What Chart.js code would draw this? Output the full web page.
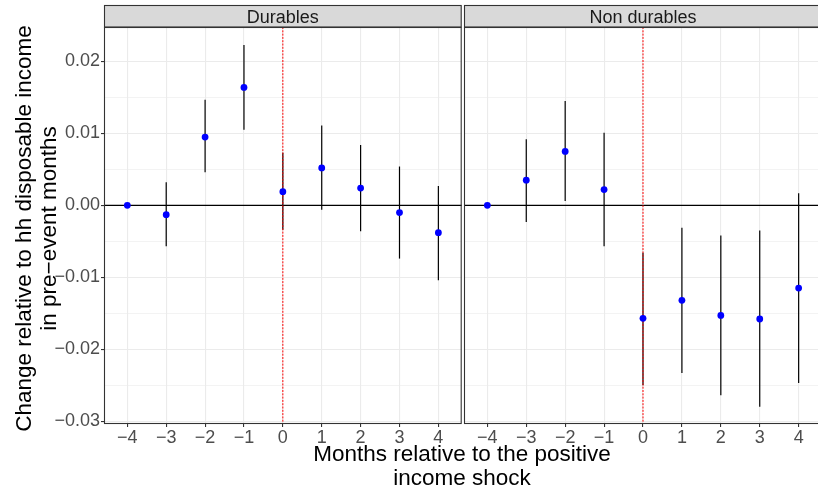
<!DOCTYPE html>
<html>
<head>
<meta charset="utf-8">
<title>Event study: durables vs non durables</title>
<script src="https://cdn.jsdelivr.net/npm/chart.js@4.4.1/dist/chart.umd.min.js"></script>
<style>
    html, body { margin: 0; padding: 0; background: #fff; overflow: hidden; }
    #wrap { position: relative; width: 818px; height: 489px; overflow: hidden; font-family: "Liberation Sans", Arial, sans-serif; }
    #wrap canvas { position: absolute; top: 0; }
    #durables { left: 0; }
    #nondurables { left: 462px; }
    .xtitle { position: absolute; left: 262px; width: 400px; top: 442px; text-align: center;
              font-size: 22.5px; line-height: 24px; color: #000; white-space: nowrap; }
</style>
</head>
<body>
<div id="wrap">
    <canvas id="durables" width="463" height="489"></canvas>
    <canvas id="nondurables" width="362" height="489"></canvas>
    <div class="xtitle">Months relative to the positive<br>income shock</div>
</div>

<script>
/* months around the shock */
const months = [-4, -3, -2, -1, 0, 1, 2, 3, 4];

/* durables: point estimate and confidence band */
const durEst  = [0, -0.0013, 0.0095, 0.0164, 0.0019, 0.0052, 0.0024, -0.0010, -0.0038];
const durLow  = [0, -0.0057, 0.0046, 0.0105, -0.0034, -0.0006, -0.0036, -0.0074, -0.0104];
const durHigh = [0, 0.0032, 0.0147, 0.0223, 0.0073, 0.0111, 0.0084, 0.0054, 0.0027];

/* non durables */
const nonEst  = [0, 0.0035, 0.0075, 0.0022, -0.0157, -0.0132, -0.0153, -0.0158, -0.0115];
const nonLow  = [0, -0.0023, 0.0006, -0.0057, -0.0250, -0.0233, -0.0264, -0.0280, -0.0247];
const nonHigh = [0, 0.0092, 0.0145, 0.0101, -0.0066, -0.0031, -0.0042, -0.0035, 0.0017];

/* axis ticks */
const xTicks = [-4, -3, -2, -1, 0, 1, 2, 3, 4];
const yTicks = [-0.03, -0.02, -0.01, 0.00, 0.01, 0.02];
const yMinor = [-0.025, -0.015, -0.005, 0.005, 0.015];

const FONT = "'Liberation Sans', Arial, sans-serif";
const GRID = "#ebebeb";
const DARK = "#333333";

function minus(s) { return String(s).replace("-", "\u2212"); }
function isMajor(v) { return yTicks.some(t => Math.abs(t - v) < 1e-9); }

function line(ctx, x1, y1, x2, y2) {
    ctx.beginPath();
    ctx.moveTo(x1, y1);
    ctx.lineTo(x2, y2);
    ctx.stroke();
}

/* zero line, error bars, shock marker, strip and frame */
const panelDecor = {
    id: "panelDecor",
    beforeDatasetsDraw(chart, args, o) {
        const { ctx, chartArea: a, scales: { x, y } } = chart;
        ctx.save();
        ctx.lineCap = "butt";

        ctx.strokeStyle = "#000";
        ctx.lineWidth = 1.1;
        const y0 = y.getPixelForValue(0);
        line(ctx, a.left, y0, a.right, y0);

        ctx.lineWidth = 1.2;
        o.low.forEach((lo, i) => {
            const px = x.getPixelForValue(months[i]);
            line(ctx, px, y.getPixelForValue(lo), px, y.getPixelForValue(o.high[i]));
        });

        ctx.strokeStyle = "#ff0000";
        ctx.lineWidth = 1;
        ctx.setLineDash([2, 1.3]);
        const x0 = x.getPixelForValue(0);
        line(ctx, x0, a.top, x0, a.bottom);
        ctx.restore();
    },
    afterDraw(chart, args, o) {
        const { ctx, chartArea: a } = chart;
        ctx.save();
        // facet strip
        ctx.fillStyle = "#d9d9d9";
        ctx.fillRect(a.left, 5.5, a.right - a.left, a.top - 5.5);
        ctx.strokeStyle = DARK;
        ctx.lineWidth = 1.1;
        ctx.strokeRect(a.left + 0.5, 5.5, a.right - a.left - 1, a.top - 5.5);
        ctx.fillStyle = "#1a1a1a";
        ctx.font = "18px " + FONT;
        ctx.textAlign = "center";
        ctx.textBaseline = "alphabetic";
        ctx.fillText(o.title, (a.left + a.right) / 2, 23);
        // panel frame
        ctx.strokeRect(a.left + 0.5, a.top + 0.5, a.right - a.left - 1, a.bottom - a.top - 1);

        // y axis title, only on the first panel
        if (o.yTitle) {
            ctx.fillStyle = "#000";
            ctx.font = "22.5px " + FONT;
            const cy = (a.top + a.bottom) / 2 + 3;
            o.yTitle.forEach((t, i) => {
                ctx.save();
                ctx.translate(31 + i * 24.5, cy);
                ctx.rotate(-Math.PI / 2);
                ctx.fillText(t, 0, 0);
                ctx.restore();
            });
        }
        ctx.restore();
    }
};

function makePanel(id, title, est, low, high, first) {
    return new Chart(document.getElementById(id), {
        type: "scatter",
        data: {
            datasets: [{
                data: months.map((m, i) => ({ x: m, y: est[i] })),
                backgroundColor: "#0000ff",
                borderWidth: 0,
                pointRadius: 3.4,
                pointHoverRadius: 3.4
            }]
        },
        options: {
            responsive: false,
            animation: false,
            devicePixelRatio: 1,
            layout: { autoPadding: false, padding: { top: 27, right: first ? 1.3 : 2, left: 0, bottom: 0 } },
            plugins: {
                legend: { display: false },
                tooltip: { enabled: false },
                panelDecor: {
                    title: title, low: low, high: high,
                    yTitle: first ? ["Change relative to hh disposable income", "in pre\u2212event months"] : null
                }
            },
            scales: {
                x: {
                    type: "linear",
                    min: -4.6, max: 4.6,
                    afterBuildTicks: s => { s.ticks = xTicks.map(v => ({ value: v })); },
                    afterFit: s => { s.height = 65; s.paddingLeft = 0; s.paddingRight = 0; },
                    border: { display: false },
                    grid: { color: GRID, lineWidth: 1.1, tickLength: 3, tickColor: DARK, tickWidth: 1.1 },
                    ticks: {
                        color: "#4d4d4d", font: { family: FONT, size: 18 },
                        padding: 0, maxRotation: 0, autoSkip: false,
                        callback: v => minus(v)
                    }
                },
                y: {
                    type: "linear",
                    min: -0.0304, max: 0.0248,
                    afterBuildTicks: s => {
                        s.ticks = yTicks.concat(yMinor).sort((a, b) => a - b).map(v => ({ value: v }));
                    },
                    afterFit: s => { s.width = first ? 104 : 2; s.paddingTop = 0; s.paddingBottom = 0; },
                    border: { display: false },
                    grid: {
                        color: GRID,
                        lineWidth: c => (c.tick && isMajor(c.tick.value)) ? 1.1 : 0.6,
                        drawTicks: first,
                        tickLength: 3,
                        tickWidth: 1.1,
                        tickColor: c => (c.tick && isMajor(c.tick.value)) ? DARK : "rgba(0,0,0,0)"
                    },
                    ticks: {
                        display: first,
                        color: "#4d4d4d", font: { family: FONT, size: 18 },
                        padding: 1, autoSkip: false,
                        callback: v => isMajor(v) ? minus(v.toFixed(2)) : ""
                    }
                }
            }
        },
        plugins: [panelDecor]
    });
}

makePanel("durables", "Durables", durEst, durLow, durHigh, true);
makePanel("nondurables", "Non durables", nonEst, nonLow, nonHigh, false);
</script>
</body>
</html>
